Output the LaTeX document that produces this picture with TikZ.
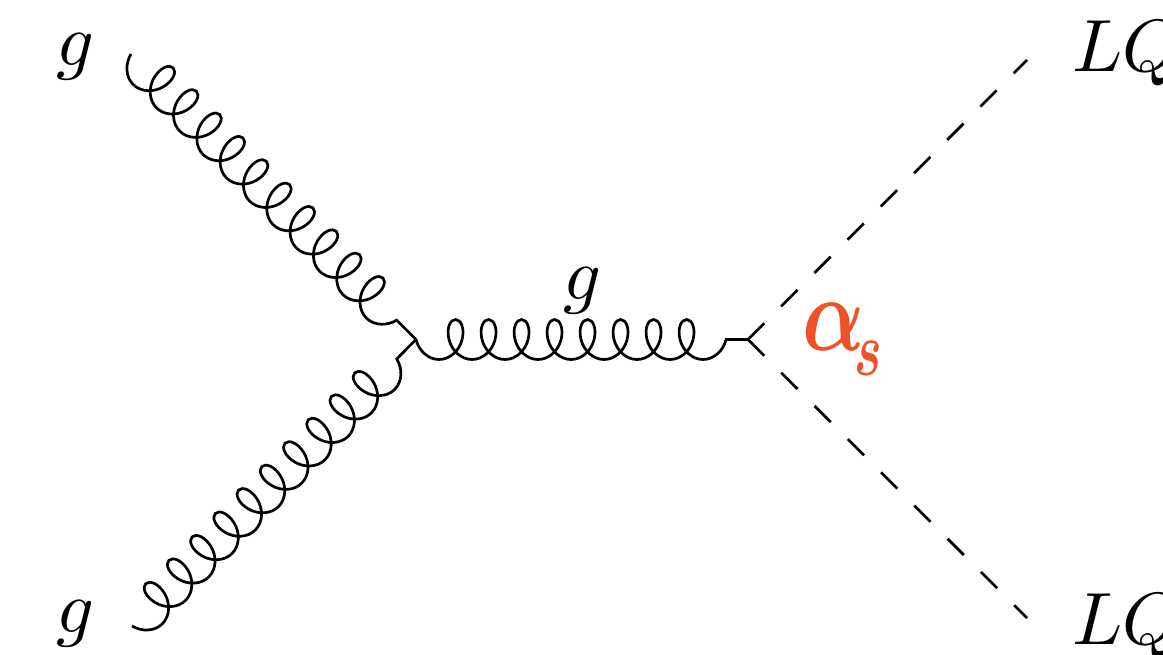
\documentclass[tikz,border=0pt]{standalone}
\usepackage{graphicx}
\usetikzlibrary{decorations.pathmorphing}
\definecolor{alphac}{HTML}{EE5228}
\DeclareSymbolFont{boldlet}{OML}{cmm}{b}{it}
\DeclareMathSymbol{\myalpha}{\mathord}{boldlet}{"0B}
\DeclareMathSymbol{\mys}{\mathord}{boldlet}{`s}
\tikzset{
  x=1pt,y=-1pt,
  gluon/.style={line width=2.7pt,decorate,decoration={coil,mirror,aspect=0.74,segment length=33pt,amplitude=20pt,post length=#1,pre length=0pt}},
  scalar/.style={line width=2.7pt,dash pattern=on 23pt off 24pt},
  lab/.style={inner sep=0pt,anchor=base west,scale=7.4},
}
\begin{document}
\begin{tikzpicture}
\useasboundingbox (0,0) rectangle (1163,655);
\coordinate (g1) at (131,54);
\coordinate (g2) at (132,626);
\coordinate (v1) at (416,339.5);
\coordinate (v2) at (748,339.5);
\coordinate (q1) at (1027,60);
\coordinate (q2) at (1027,618);
\draw[gluon=27pt] (g1) -- (v1);
\draw[gluon=27pt] (g2) -- (v1);
\draw[gluon=21pt] (v1) -- (v2);
\draw[scalar] (v2) -- (q1);
\draw[scalar] (v2) -- (q2);
\node[lab] (lg1) at (55,66) {$g$};
\node[lab] (lg2) at (55,632) {$g$};
\node[lab] (lg3) at (562,300) {$g$};
\node[lab] (lq1) at (1071,72) {$LQ$};
\node[lab] (lq2) at (1071,644) {$LQ$};
\node[inner sep=0pt,anchor=base west,text=alphac] (la) at (802,350) {\scalebox{8.2}[10.6]{$\myalpha$}\hspace{-10pt}\raisebox{-25pt}{\scalebox{5.2}[7.7]{$\mys$}}};
\end{tikzpicture}
\end{document}
